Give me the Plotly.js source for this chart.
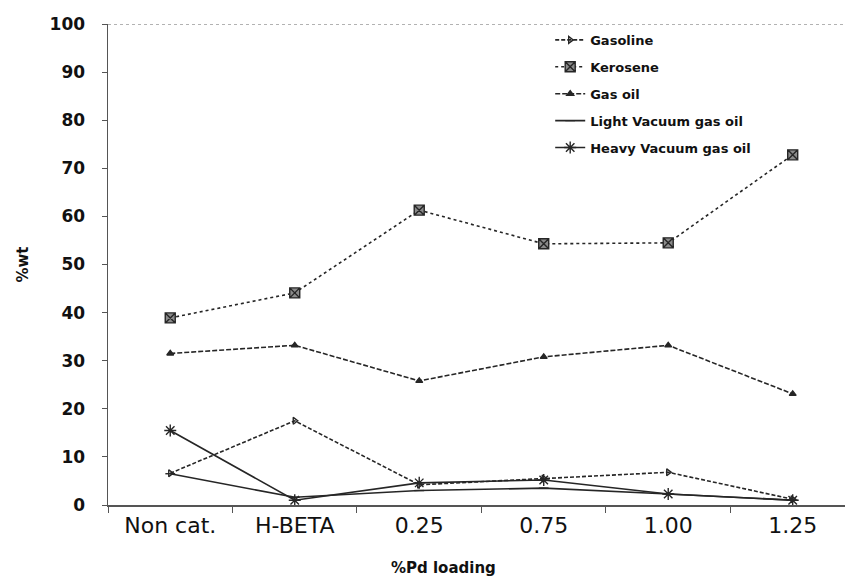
<!DOCTYPE html>
<html>
<head>
<meta charset="utf-8">
<script src="https://cdn.plot.ly/plotly-3.0.1.min.js"></script>
<style>
  html, body { margin: 0; padding: 0; background: #ffffff; }
  #chart { width: 845px; height: 586px; }
</style>
</head>
<body>
<div id="chart"></div>
<script>
// Product distribution (%wt) versus Pd loading on the catalyst
const categories = ["Non cat.", "H-BETA", "0.25", "0.75", "1.00", "1.25"];
const seriesNames = ["Gasoline", "Kerosene", "Gas oil", "Light Vacuum gas oil", "Heavy Vacuum gas oil"];

const gasoline = [6.6, 17.5, 4.2, 5.5, 6.8, 1.2];
const kerosene = [38.9, 44.1, 61.3, 54.3, 54.5, 72.8];
const gasOil = [31.5, 33.2, 25.8, 30.8, 33.2, 23.1];
const lightVacuumGasOil = [6.5, 1.6, 3.0, 3.5, 2.3, 1.0];
const heavyVacuumGasOil = [15.5, 1.0, 4.6, 5.2, 2.3, 1.0];

const yTicks = [0, 10, 20, 30, 40, 50, 60, 70, 80, 90, 100];

const ink = "#262626";
const legendFont = { family: "DejaVu Sans", size: 13, color: "#111", weight: "bold" };

function series(name, values, dash, symbol, size, group, fill) {
  return {
    type: "scatter",
    mode: "lines+markers",
    name: name,
    x: categories,
    y: values,
    legendgroup: group,
    line: { color: ink, width: 1.6, dash: dash },
    marker: { symbol: symbol, size: size, color: fill || ink, line: { color: ink, width: 1.4 } }
  };
}

const data = [
  series(seriesNames[0], gasoline, "4px,2px", "triangle-right-open", 6, "g1"),
  series(seriesNames[1], kerosene, "dot", "square-x", 10, "g2", "#8a8a8a"),
  series(seriesNames[2], gasOil, "5px,2px", "triangle-up", 6, "g3"),
  series(seriesNames[3], lightVacuumGasOil, "solid", "line-ew-open", 7, "g4"),
  series(seriesNames[4], heavyVacuumGasOil, "solid", "asterisk-open", 10, "g5")
];

const layout = {
  width: 845,
  height: 586,
  margin: { l: 108, r: 0, t: 24, b: 81 },
  paper_bgcolor: "#ffffff",
  plot_bgcolor: "#ffffff",
  showlegend: true,
  legend: {
    x: 0.6, y: 0.998, xanchor: "left", yanchor: "top",
    bgcolor: "rgba(0,0,0,0)",
    font: legendFont,
    tracegroupgap: 7,
    itemwidth: 30
  },
  xaxis: {
    type: "category",
    range: [-0.5, 5.42],
    showgrid: false,
    zeroline: false,
    showline: true,
    linecolor: "#555",
    linewidth: 1.5,
    ticks: "outside",
    tickson: "boundaries",
    ticklen: 6,
    tickcolor: "#555",
    tickfont: { family: "DejaVu Sans", size: 22, color: "#111" },
    fixedrange: true
  },
  yaxis: {
    range: [0, 100],
    tickvals: yTicks,
    showgrid: false,
    zeroline: false,
    showline: true,
    linecolor: "#555",
    linewidth: 1.5,
    ticks: "outside",
    ticklen: 5,
    tickcolor: "#555",
    ticklabelstandoff: 13,
    tickfont: { family: "DejaVu Sans", size: 17, color: "#111", weight: "bold" },
    title: { text: "%wt", font: { family: "DejaVu Sans", size: 15, color: "#111", weight: "bold" }, standoff: 17 },
    fixedrange: true
  },
  shapes: [
    // dotted upper frame at 100 %
    { type: "line", xref: "paper", yref: "y", x0: 0, x1: 1, y0: 100, y1: 100,
      line: { color: "#666", width: 1.2, dash: "dot" } }
  ],
  annotations: [
    { text: "%Pd loading", xref: "paper", yref: "paper", x: 0.455, y: -0.13,
      xanchor: "center", yanchor: "middle", showarrow: false,
      font: { family: "DejaVu Sans", size: 15, color: "#111", weight: "bold" } }
  ]
};

Plotly.newPlot("chart", data, layout, { displayModeBar: false, staticPlot: true });
</script>
</body>
</html>
